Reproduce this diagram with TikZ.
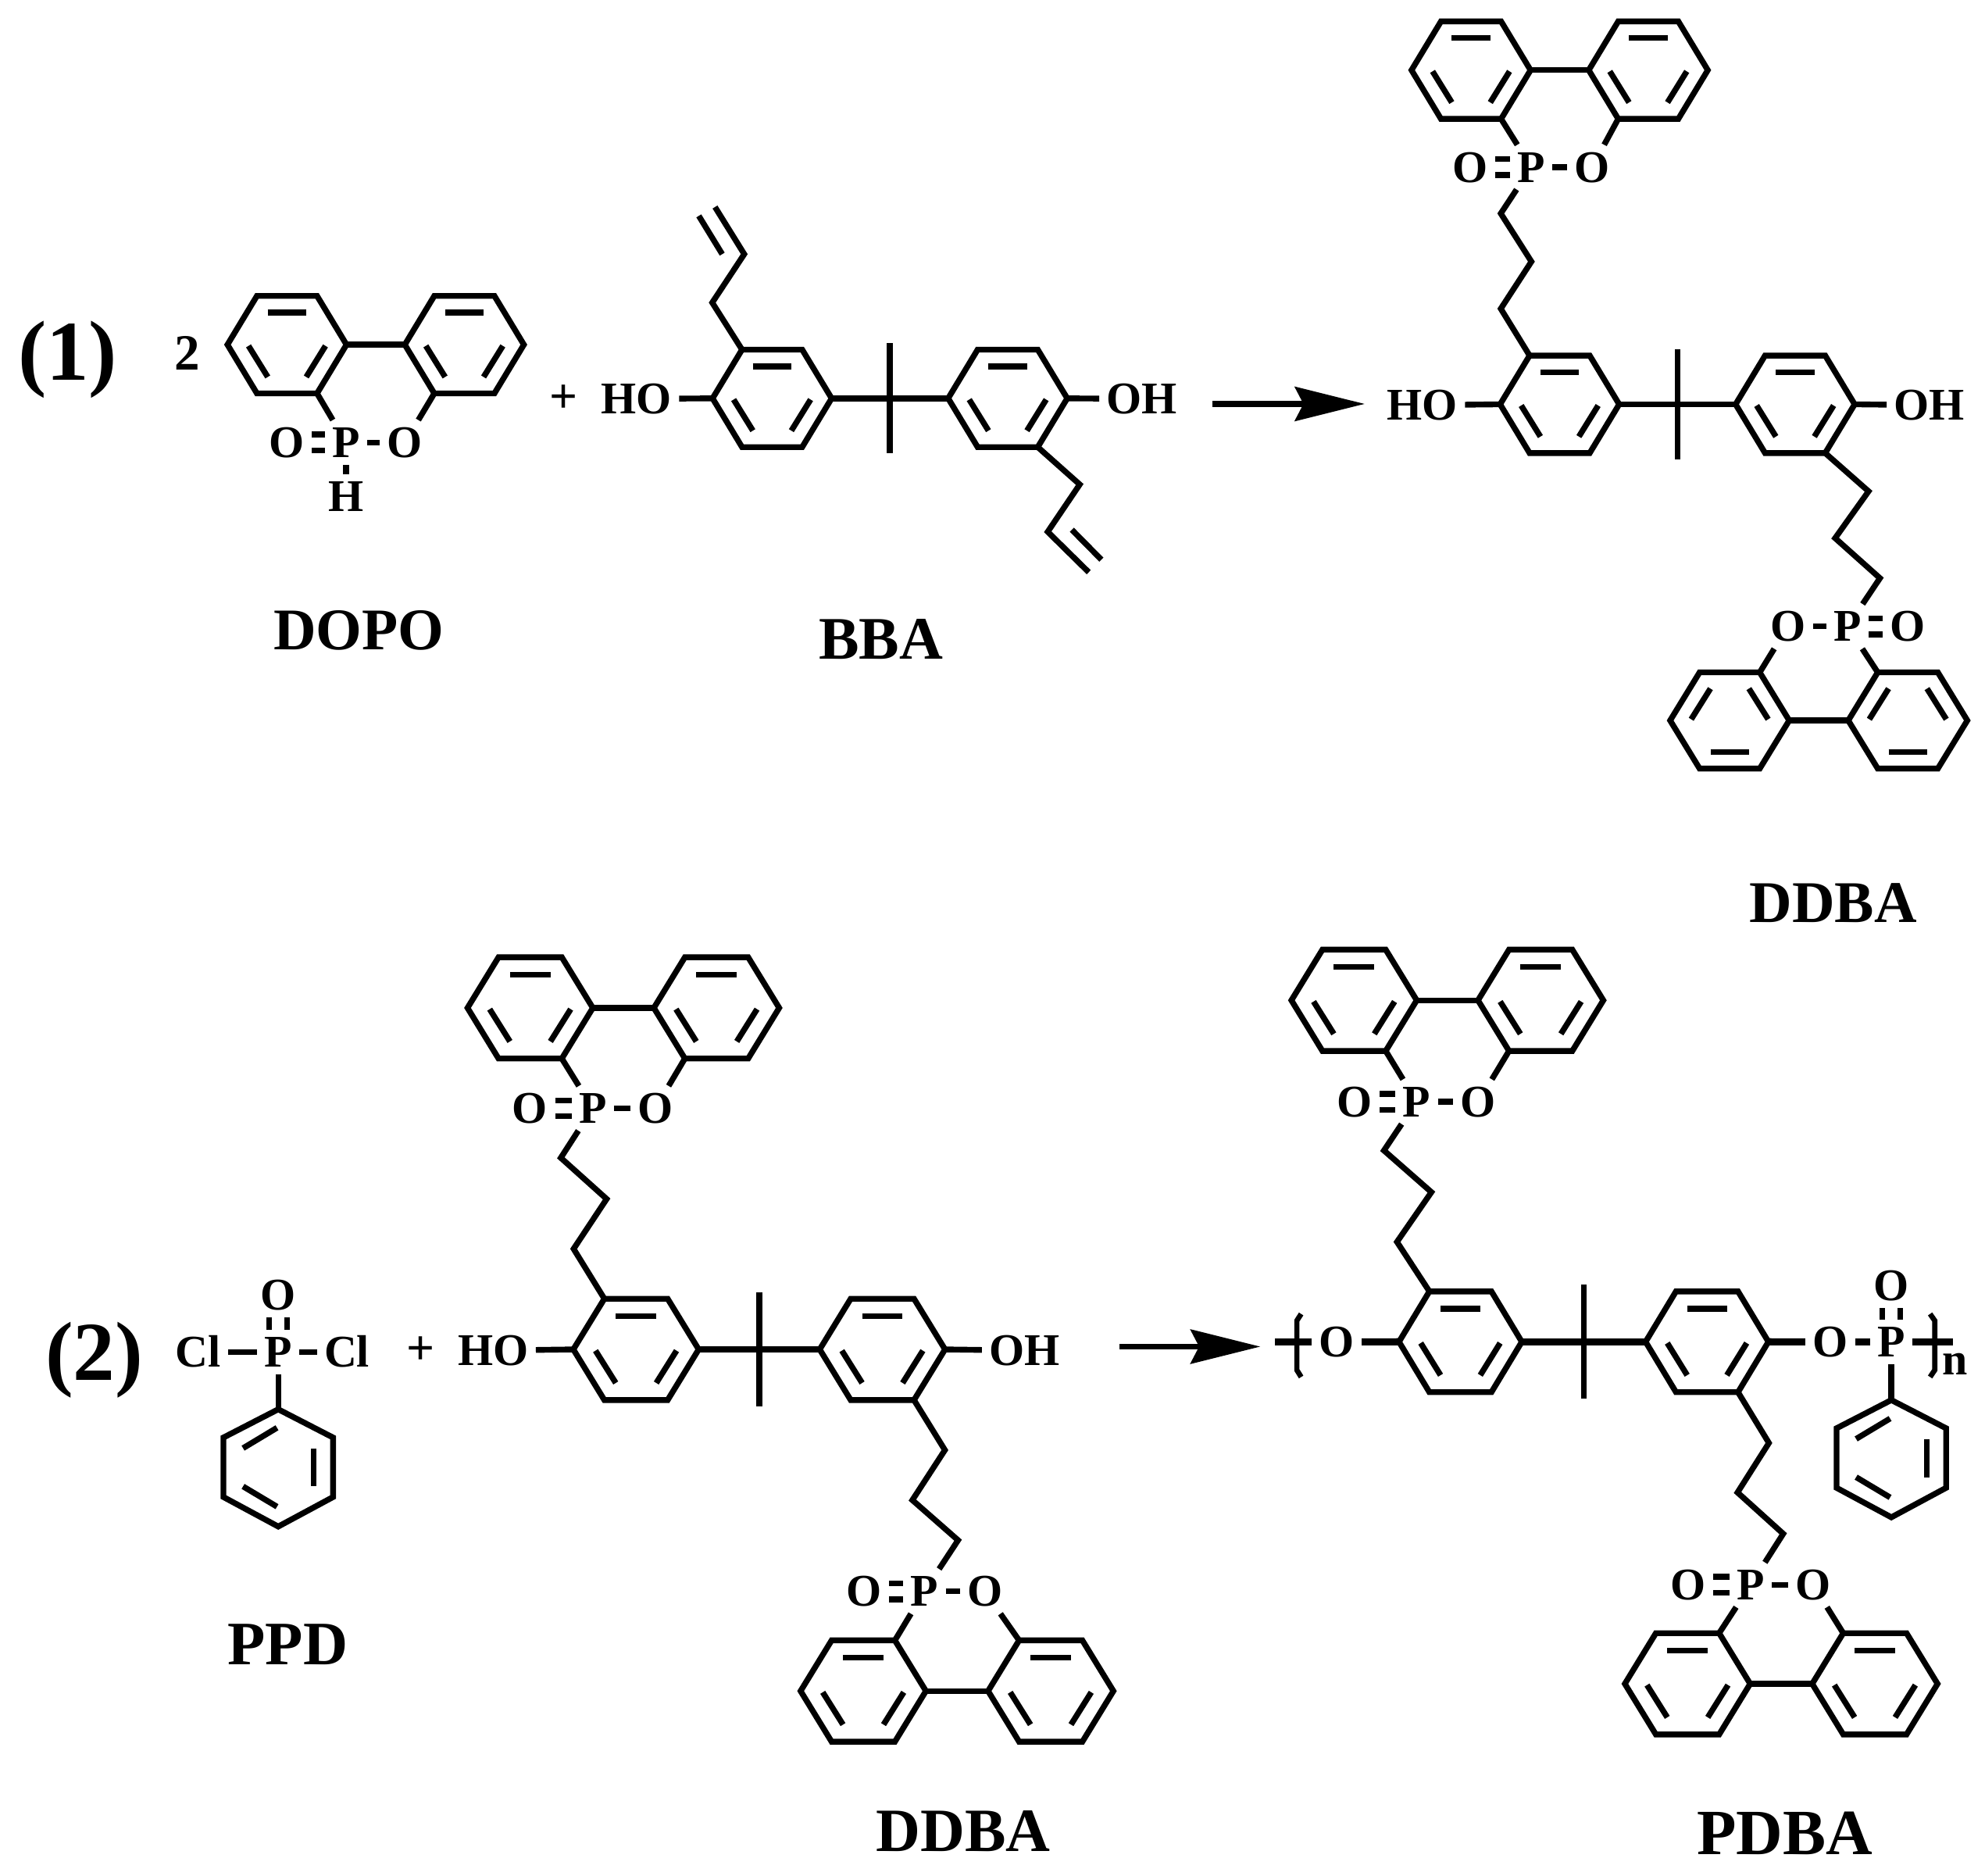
\documentclass[tikz,border=0pt]{standalone}
\usepackage{fontspec}
\setmainfont{Liberation Serif}
\usetikzlibrary{arrows.meta,calc}

\tikzset{
    bond/.style={line width=2.1pt},
    bondthick/.style={line width=2.6pt},
    bracket/.style={line width=1.9pt},
    atom/.style={font=\fontsize{16.5}{18}\selectfont\bfseries,inner sep=2.5pt,text height=10.9pt,text depth=0pt},
    plain/.style={font=\fontsize{18}{20}\selectfont\bfseries,inner sep=0pt},
    tag/.style={font=\fontsize{#1}{#1}\selectfont\bfseries,inner sep=0pt},
    rarrow/.style={line width=2.1pt,-{Stealth[length=25.4pt,width=12.4pt,inset=3.1pt]}}
}

\newcommand{\flatring}[5]{
    \begin{scope}[shift={(#2,#3)},xscale=#4,yscale=#5]
    \coordinate (#1w) at (-49.5,0);
    \coordinate (#1e) at (49.5,0);
    \coordinate (#1nw) at (-25,-40);
    \coordinate (#1ne) at (25,-40);
    \coordinate (#1sw) at (-25,40);
    \coordinate (#1se) at (25,40);
    \draw[bond] (#1w) -- (#1nw) -- (#1ne) -- (#1e) -- (#1se) -- (#1sw) -- cycle;
    \draw[bond] (-16,-26.3) -- (16,-26.3);
    \draw[bond] (-32,1) -- (-16,26.5);
    \draw[bond] (32,1) -- (16,26.5);
    \end{scope}
}

\newcommand{\phenyl}[3]{
    \begin{scope}[shift={(#2,#3)}]
    \coordinate (#1top) at (0,-46.3);
    \draw[bond] (#1top) -- (43.3,-24) -- (43.3,23) -- (0,46.3) -- (-43.3,23) -- (-43.3,-24) -- cycle;
    \draw[bond] (-27.8,-15.6) -- (-1,-31.7);
    \draw[bond] (28,-15.2) -- (28,14.6);
    \draw[bond] (-27.8,14.6) -- (-1,30.6);
    \end{scope}
}

\newcommand{\dblbond}[2]{
    \draw[bond] ([yshift=2.9pt]#1.east) -- ([yshift=2.9pt]#2.west);
    \draw[bond] ([yshift=-2.9pt]#1.east) -- ([yshift=-2.9pt]#2.west);
}

\newcommand{\upbond}[2]{
    \draw[bond] ([xshift=-3.25pt]#1.north) -- ([xshift=-3.25pt]#2.south);
    \draw[bond] ([xshift=3.25pt]#1.north) -- ([xshift=3.25pt]#2.south);
}

\newcommand{\dopounit}[9]{
    \flatring{#1L}{#2}{#4}{#5}{#6}
    \flatring{#1R}{#3}{#4}{#5}{#6}
    \draw[bond] (#1Le) -- (#1Rw);
    \node[atom] (#1P) at (#7,#8) {P};
    \node[atom] (#1Oa) at (#9,#8) {O};
    \node[atom] (#1Ob) at ($2*(#7,#8)-(#9,#8)$) {O};
}

\newcommand{\bisring}[6]{
    \flatring{#1L}{#2}{#4}{#5}{#6}
    \flatring{#1R}{#3}{#4}{#5}{#6}
    \draw[bond] (#1Le) -- (#1Rw);
    \coordinate (#1t) at ($(#1Le)!.5!(#1Rw)$);
    \draw[bond] ($(#1t)+(0,-45.3*#6)$) -- ($(#1t)+(0,45.3*#6)$);
}

\begin{document}
\begin{tikzpicture}[x=0.016205cm,y=-0.016205cm]

    \useasboundingbox (0,0) rectangle (1568,1481);

    \node[tag=31] (lab1) at (53.4,284) {(1)};
    \node[tag=18.5] (two) at (148,279) {2};

    \dopounit{a}{226.7}{366.8}{272.2}{0.95}{0.9625}{273.3}{349.4}{226.7}
    \draw[bond] (aLse) -- (aP);
    \draw[bond] (aRsw) -- (aOb);
    \dblbond{aOa}{aP}
    \draw[bond] (aP) -- (aOb);
    \node[atom] (aH) at (273.3,392.3) {H};
    \draw[bond] (aP) -- (aH);
    \node[tag=21.5] (dopo) at (283.4,498) {DOPO};

    \node[plain] (plus1) at (445,315) {+};
    \bisring{bba}{609.9}{796}{314.6}{0.95}{0.9625}
    \node[atom] (bbaHO) at (502.8,315) {HO};
    \node[atom] (bbaOH) at (902,315) {OH};
    \draw[bond] (bbaHO) -- (bbaLw);
    \draw[bond] (bbaRe) -- (bbaOH);
    \draw[bond] (bbaLnw) -- (562.6,239) -- (587.9,200.7) -- (564.8,163.5);
    \draw[bond] (570.5,200.7) -- (552,170.5);
    \draw[bond] (bbaRse) -- (852.9,382.6) -- (827.6,420) -- (860,451.9);
    \draw[bond] (846.7,418.4) -- (870,442);
    \node[tag=22] (bba) at (696,505) {BBA};

    \coordinate (arr1s) at (958,319);
    \coordinate (arr1e) at (1078,319);
    \draw[rarrow] (arr1s) -- (arr1e);

    \dopounit{b}{1162}{1302}{55.4}{0.95}{0.9625}{1209.6}{132}{1161.6}
    \draw[bond] (bLse) -- (bP);
    \draw[bond] (bRsw) -- (bOb);
    \dblbond{bOa}{bP}
    \draw[bond] (bP) -- (bOb);
    \bisring{dd}{1232}{1418}{319.3}{0.95}{0.9625}
    \node[atom] (ddHO) at (1123.5,320) {HO};
    \node[atom] (ddOH) at (1524,320) {OH};
    \draw[bond] (ddHO) -- (ddLw);
    \draw[bond] (ddRe) -- (ddOH);
    \draw[bond] (ddLnw) -- (1185.5,243.8) -- (1209.7,206.6) -- (1185.5,168.6) -- (bP);
    \dopounit{c}{1366.3}{1507}{569}{0.95}{-0.95}{1459.5}{494.7}{1506.7}
    \draw[bond] (cLse) -- (cOb);
    \draw[bond] (cRsw) -- (cP);
    \dblbond{cP}{cOa}
    \draw[bond] (cOb) -- (cP);
    \draw[bond] (ddRse) -- (1476,388) -- (1449.6,425) -- (1485,456.6) -- (cP);
    \node[tag=21.5] (ddba1) at (1448,713) {DDBA};

    \node[tag=30.5] (lab2) at (74.5,1074) {(2)};
    \node[atom] (pcP) at (219.8,1067.8) {P};
    \node[atom] (pcO) at (219.8,1022.6) {O};
    \node[atom] (pcCla) at (156.5,1067.8) {Cl};
    \node[atom] (pcClb) at (274,1067.8) {Cl};
    \draw[bond] (pcCla) -- (pcP);
    \draw[bond] (pcP) -- (pcClb);
    \upbond{pcP}{pcO}
    \phenyl{pc}{219.8}{1159.3}
    \draw[bond] (pcP) -- (pctop);
    \node[tag=22.5] (ppd) at (227.3,1299) {PPD};

    \node[plain] (plus2) at (332,1066.7) {+};
    \dopounit{d}{418.8}{566}{796}{1}{1}{468.2}{875.3}{418.7}
    \draw[bond] (dLse) -- (dP);
    \draw[bond] (dRsw) -- (dOb);
    \dblbond{dOa}{dP}
    \draw[bond] (dP) -- (dOb);
    \bisring{de}{502.4}{697}{1065.7}{1}{1}
    \node[atom] (deHO) at (389.6,1066.6) {HO};
    \node[atom] (deOH) at (809.3,1066.6) {OH};
    \draw[bond] (deHO) -- (deLw);
    \draw[bond] (deRe) -- (deOH);
    \draw[bond] (deLnw) -- (453.1,986.3) -- (479.2,946.9) -- (443,914.4) -- (dP);
    \dopounit{e}{681.9}{830}{1335.5}{1}{1}{730.2}{1256.8}{682.5}
    \draw[bond] (eLne) -- (eP);
    \draw[bond] (eRnw) -- (eOb);
    \dblbond{eOa}{eP}
    \draw[bond] (eP) -- (eOb);
    \draw[bond] (deRse) -- (746.4,1145.2) -- (720.7,1184.7) -- (756.8,1216.4) -- (eP);
    \node[tag=22.4] (ddba2) at (761,1446) {DDBA};

    \coordinate (arr2s) at (884.5,1063.5);
    \coordinate (arr2e) at (995.6,1063.5);
    \draw[rarrow] (arr2s) -- (arr2e);

    \dopounit{f}{1069.6}{1217}{790}{1}{1}{1119}{870.1}{1070.2}
    \draw[bond] (fLse) -- (fP);
    \draw[bond] (fRsw) -- (fOb);
    \dblbond{fOa}{fP}
    \draw[bond] (fP) -- (fOb);
    \bisring{pd}{1153.6}{1348.4}{1059.7}{0.98}{0.995}
    \draw[bondthick] (pdLe) -- (pdRw);
    \node[atom] (pdOa) at (1055.8,1059.8) {O};
    \node[atom] (pdOb) at (1445.8,1059.8) {O};
    \node[atom] (pdP) at (1494,1059.8) {P};
    \node[atom] (pdOc) at (1494,1015.2) {O};
    \node[atom] (pdn) at (1544.5,1074) {n};
    \coordinate (stubl) at (1007.3,1059.8);
    \coordinate (stubr) at (1542.7,1059.8);
    \draw[bondthick] (stubl) -- (pdOa);
    \draw[bondthick] (pdOa) -- (pdLw);
    \draw[bondthick] (pdRe) -- (pdOb);
    \draw[bondthick] (pdOb) -- (pdP);
    \draw[bondthick] (pdP) -- (stubr);
    \upbond{pdP}{pdOc}
    \draw[bracket] (1027.8,1037.7) -- (1024.4,1043) -- (1024.4,1082) -- (1027.8,1087.5);
    \draw[bracket] (1524.6,1037.7) -- (1528.3,1043) -- (1528.3,1082) -- (1524.6,1087.5);
    \phenyl{pp}{1494}{1152}
    \draw[bond] (pdP) -- (pptop);
    \draw[bond] (pdLnw) -- (1103.5,980.8) -- (1130.7,941.5) -- (1093.2,908.6) -- (fP);
    \dopounit{g}{1333}{1481}{1329.8}{1}{1}{1382.9}{1251.6}{1333.6}
    \draw[bond] (gLne) -- (gP);
    \draw[bond] (gRnw) -- (gOb);
    \dblbond{gOa}{gP}
    \draw[bond] (gP) -- (gOb);
    \draw[bond] (pdRse) -- (1397.3,1139.6) -- (1372.5,1178.7) -- (1408.6,1211.3) -- (gP);
    \node[tag=23.5] (pdba) at (1409.7,1448) {PDBA};

\end{tikzpicture}
\end{document}
